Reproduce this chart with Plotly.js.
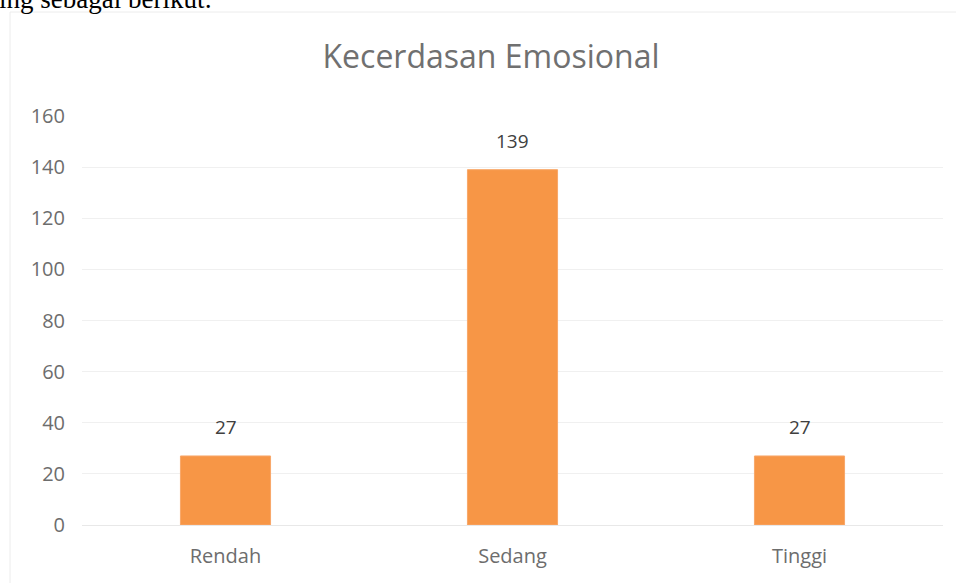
<!DOCTYPE html>
<html>
<head>
<meta charset="utf-8">
<script src="https://cdn.plot.ly/plotly-3.0.1.min.js"></script>
<style>html,body{margin:0;padding:0;background:#fff;}#chart{width:956px;height:583px;}</style>
</head>
<body>
<div id="chart"></div>
<script>
const categories = ["Rendah", "Sedang", "Tinggi"];
const values = [27, 139, 27];
const yTicks = [0, 20, 40, 60, 80, 100, 120, 140, 160];
const chartTitle = "Kecerdasan Emosional";
const topText = "ing sebagai berikut:";

const W = 956, H = 583;
const L = 82, R = 13, T = 116, B = 58;
const pw = W - L - R, ph = H - T - B;
const px = x => (x - L) / pw;
const py = y => (H - B - y) / ph;
const FONT = "'Open Sans', Lato, sans-serif";

const trace = {
  type: "bar",
  x: categories,
  y: values,
  marker: {color: "#F79646", line: {color: "#F8A769", width: 1}},
  hoverinfo: "none"
};

const labelAnnotations = categories.map((c, i) => ({
  x: c, y: values[i], xref: "x", yref: "y",
  text: String(values[i]), showarrow: false,
  yanchor: "middle", yshift: 29,
  font: {family: FONT, size: 19, color: "#404040"}
}));

const layout = {
  width: W, height: H,
  margin: {l: L, r: R, t: T, b: B, pad: 0},
  paper_bgcolor: "#ffffff",
  plot_bgcolor: "#ffffff",
  bargap: 0.686,
  showlegend: false,
  title: {
    text: chartTitle,
    font: {family: FONT, size: 32, color: "#707070"},
    x: px(491), xanchor: "center", xref: "paper",
    y: 1 - 57 / H, yanchor: "middle", yref: "container"
  },
  xaxis: {
    type: "category",
    showgrid: false, zeroline: false, showline: false,
    ticks: "", ticklen: 0,
    ticklabelstandoff: 17,
    tickfont: {family: FONT, size: 20, color: "#6d6d6d"},
    automargin: false
  },
  yaxis: {
    range: [0, 160],
    tickvals: yTicks,
    ticktext: yTicks.map(String),
    showgrid: true, gridcolor: "#f0f0f0", gridwidth: 1,
    zeroline: true, zerolinecolor: "#e8e8e8", zerolinewidth: 1,
    showline: false, ticks: "",
    ticklabelstandoff: 16,
    tickfont: {family: FONT, size: 20, color: "#6d6d6d"},
    automargin: false
  },
  shapes: [{
    type: "rect", xref: "paper", yref: "paper",
    x0: px(10), x1: px(1000), y0: py(700), y1: py(12),
    line: {color: "#ececec", width: 1}, fillcolor: "rgba(0,0,0,0)", layer: "below"
  }],
  annotations: labelAnnotations.concat([{
    text: topText, xref: "paper", yref: "paper",
    x: px(-3), xanchor: "left", y: py(-1), yanchor: "middle",
    showarrow: false,
    font: {family: "'Liberation Serif', 'DejaVu Serif', serif", size: 27, color: "#000000"}
  }])
};

Plotly.newPlot("chart", [trace], layout, {staticPlot: true, displayModeBar: false});
</script>
</body>
</html>
